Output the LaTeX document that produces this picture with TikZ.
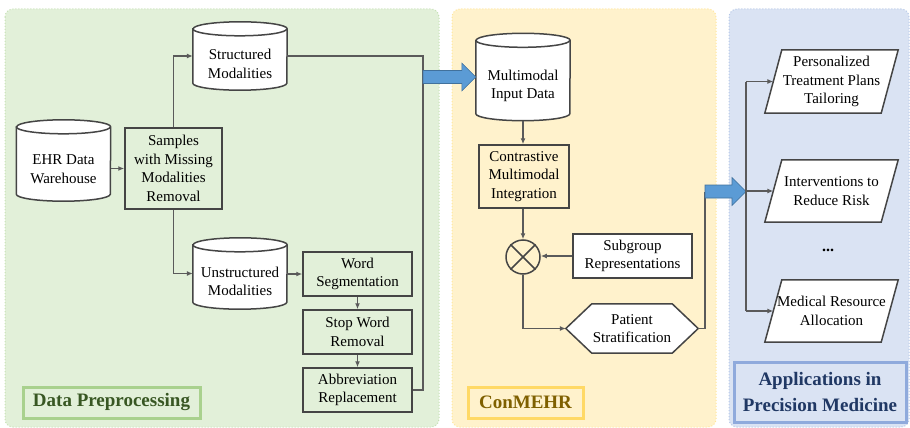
\documentclass[tikz,border=0pt]{standalone}
\usepackage{fontspec}
\setmainfont{Liberation Serif}
\usetikzlibrary{arrows.meta,calc}
\pgfdeclarelayer{bg}
\pgfdeclarelayer{mid}
\pgfsetlayers{bg,mid,main}
\definecolor{greenbg}{HTML}{E2F0D9}
\definecolor{greenbd}{HTML}{C5E0B4}
\definecolor{yellowbg}{HTML}{FFF2CC}
\definecolor{yellowbd}{HTML}{FFE699}
\definecolor{bluebg}{HTML}{DAE3F3}
\definecolor{bluebd}{HTML}{B4C7E7}
\definecolor{lgreen}{HTML}{A9D18E}
\definecolor{dgreen}{HTML}{385723}
\definecolor{lyellow}{HTML}{FFD966}
\definecolor{dyellow}{HTML}{7F6000}
\definecolor{lblue}{HTML}{8FAADC}
\definecolor{dblue}{HTML}{203864}
\definecolor{arrowblue}{HTML}{5B9BD5}
\definecolor{arrowbd}{HTML}{41719C}
\definecolor{shapeln}{HTML}{454545}
\definecolor{connln}{HTML}{5A5A5A}
\newcommand\cyl[1]{\begin{pgfonlayer}{mid}
 \filldraw[box, fill=white] ([yshift=-7pt]#1.north west) -- ([yshift=7pt]#1.south west)
   arc[start angle=180, end angle=360, x radius=47pt, y radius=7pt]
   -- ([yshift=-7pt]#1.north east)
   arc[start angle=0, end angle=180, x radius=47pt, y radius=7pt] -- cycle;
 \draw[box] ([yshift=-7pt]#1.north west) arc[start angle=180, end angle=360, x radius=47pt, y radius=7pt];
\end{pgfonlayer}}
\newcommand\pgram[1]{\begin{pgfonlayer}{mid}
 \filldraw[box, fill=white] ([xshift=-8.5pt]#1.south west) -- ([xshift=8.5pt]#1.north west)
   -- ([xshift=8.5pt]#1.north east) -- ([xshift=-8.5pt]#1.south east) -- cycle;
\end{pgfonlayer}}
\newcommand\hexa[1]{\begin{pgfonlayer}{mid}
 \filldraw[box, fill=white] (#1.west) -- ([xshift=26pt]#1.north west) -- ([xshift=-26pt]#1.north east)
   -- (#1.east) -- ([xshift=-26pt]#1.south east) -- ([xshift=26pt]#1.south west) -- cycle;
\end{pgfonlayer}}
\newcommand\blockarrow[2]{\filldraw[blockarr] ($(#1)+(0,-6.5)$) -- ($(#2)+(-14,-6.5)$) -- ($(#2)+(-14,-14)$)
   -- (#2) -- ($(#2)+(-14,14)$) -- ($(#2)+(-14,6.5)$) -- ($(#1)+(0,6.5)$) -- cycle;}
\begin{document}
\begin{tikzpicture}[x=1pt,y=-1pt,
  every node/.style={font=\fontsize{15}{18.7}\selectfont, align=center, inner sep=0pt},
  panel/.style={rounded corners=8pt, dotted, line width=1pt},
  box/.style={draw=shapeln, line width=1.5pt},
  conn/.style={draw=connln, line width=1.4pt},
  arr/.style={conn, -{Latex[length=6pt,width=5pt]}},
  cylnode/.style={minimum width=94pt},
  lab/.style={line width=3pt, font=\fontsize{19}{25.5}\selectfont\bfseries},
  blockarr/.style={fill=arrowblue, draw=arrowbd, line width=0.6pt}
]
\useasboundingbox (0,0) rectangle (910,428);
\begin{pgfonlayer}{bg}
\fill[white] (0,0) rectangle (910,428);
\draw[panel, fill=greenbg, draw=greenbd] (5,9) rectangle (439,427);
\draw[panel, fill=yellowbg, draw=yellowbd] (452,9) rectangle (716,427);
\draw[panel, fill=bluebg, draw=bluebd] (729,9) rectangle (909,427);
\end{pgfonlayer}

% Data preprocessing
\node[cylnode, minimum height=68pt] (struct) at (240,56) {};
\node (structT) at (240,64) {Structured\\Modalities};
\cyl{struct}
\node[cylnode, minimum height=81pt] (ehr) at (63.5,160.5) {};
\node (ehrT) at (63.5,169) {EHR Data\\Warehouse};
\cyl{ehr}
\node[cylnode, minimum height=71pt] (unstr) at (240,273.5) {};
\node (unstrT) at (240,281.5) {Unstructured\\Modalities};
\cyl{unstr}
\node[box, minimum width=97pt, minimum height=81pt] (samp) at (173.5,168.5) {Samples\\with Missing\\Modalities\\Removal};
\node[box, minimum width=109pt, minimum height=44pt] (seg) at (357.5,274) {Word\\Segmentation};
\node[box, minimum width=109pt, minimum height=44pt] (stop) at (357.5,332) {Stop Word\\Removal};
\node[box, minimum width=109pt, minimum height=44pt] (abbr) at (357.5,390) {Abbreviation\\Replacement};
\node[lab, draw=lgreen, text=dgreen, minimum width=177pt, minimum height=31pt] (lab1) at (111.5,402.5) {Data Preprocessing};

\draw[arr] (ehr.east |- samp.west) -- (samp.west);
\draw[arr] (samp.north) |- (struct.west);
\draw[arr] (samp.south) |- (unstr.west);
\draw[arr] (unstr.east |- seg.west) -- (seg.west);
\draw[arr] (seg) -- (stop);
\draw[arr] (stop) -- (abbr);
\coordinate (bus1) at (423,0);
\draw[conn] (struct.east) -- (struct.east -| bus1) -- (abbr.east -| bus1) -- (abbr.east);

% ConMEHR
\node[cylnode, minimum height=87pt] (mmi) at (523,77) {};
\node (mmiT) at (523,86) {Multimodal\\Input Data};
\cyl{mmi}
\coordinate (ba1s) at (bus1 |- mmi.west);
\blockarrow{ba1s}{mmi.west}
\node[box, minimum width=90pt, minimum height=63pt] (cmi) at (524,176.5) {Contrastive\\Multimodal\\Integration};
\node[box, circle, minimum size=34pt] (mul) at (523,257) {};
\draw[box] (mul.north west) -- (mul.south east) (mul.north east) -- (mul.south west);
\node[box, fill=white, minimum width=119pt, minimum height=44pt] (sub) at (632.5,256) {Subgroup\\Representations};
\node[minimum width=132pt, minimum height=49pt] (pat) at (632,328.5) {Patient\\Stratification};
\hexa{pat}
\node[lab, draw=lyellow, text=dyellow, minimum width=115pt, minimum height=31pt] (lab2) at (525.5,402.5) {ConMEHR};

\draw[arr] (mmi.south) -- (mmi.south |- cmi.north);
\draw[arr] (mul.north |- cmi.south) -- (mul.north);
\draw[arr] (sub.west) -- (sub.west -| mul.east);
\draw[arr] (mul.south) |- (pat.west);
\coordinate (bus2) at (705,191.5);
\coordinate (bus3) at (746,191.5);
\draw[conn] (pat.east) -| (bus2);
\blockarrow{bus2}{bus3}

% Applications
\node[minimum width=116pt, minimum height=63pt] (pers) at (831.5,81.5) {Personalized\\Treatment Plans\\Tailoring};
\pgram{pers}
\node[minimum width=116pt, minimum height=62pt] (intv) at (831.5,191) {Interventions to\\Reduce Risk};
\pgram{intv}
\node[font=\fontsize{16}{18}\selectfont\bfseries] (dots) at (828,250) {...};
\node[minimum width=116pt, minimum height=62pt] (med) at (831.5,311) {Medical Resource\\Allocation};
\pgram{med}
\node[lab, draw=lblue, text=dblue, minimum width=172pt, minimum height=60pt] (lab3) at (820,392) {Applications in\\Precision Medicine};

\draw[conn] (bus3 |- pers.west) -- (bus3 |- med.west);
\draw[arr] (bus3 |- pers.west) -- (pers.west);
\draw[arr] (bus3 |- intv.west) -- (intv.west);
\draw[arr] (bus3 |- med.west) -- (med.west);
\end{tikzpicture}
\end{document}
